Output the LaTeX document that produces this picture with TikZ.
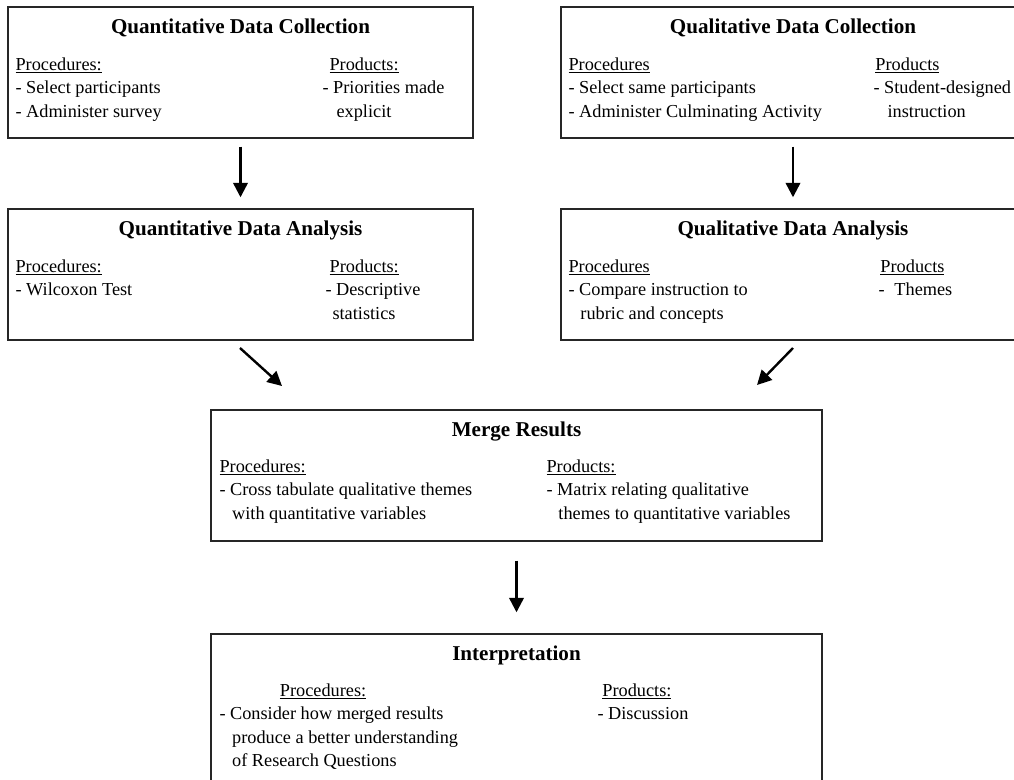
\documentclass[tikz,border=0pt]{standalone}
\usepackage{fontspec}
\setmainfont{Liberation Serif}
\usetikzlibrary{calc,arrows.meta}

\tikzset{
  box/.style={draw=black!85, line width=1pt, minimum height=3.275cm, inner sep=0},
  ttl/.style={anchor=base, inner sep=0, font=\fontsize{15}{18}\selectfont\bfseries},
  txt/.style={anchor=base west, inner sep=0, font=\fontsize{13}{16.7}\selectfont},
  arr/.style={line width=1.7pt, -{Triangle[width=0.36cm, length=0.36cm]}}
}
\newcommand{\colbox}[1]{\begin{tabular}[t]{@{}l@{}}#1\end{tabular}}

\begin{document}
\begin{tikzpicture}[x=0.025cm, y=-0.025cm]
  \useasboundingbox (0,0) rectangle (1014,779);
  \clip (0,0) rectangle (1014,779);

  \node[box, minimum width=11.625cm] (qnc) at (240.5,72.5) {};
  \node[box, minimum width=11.6cm] (qlc) at (793,72.5) {};
  \node[box, minimum width=11.625cm] (qna) at (240.5,274.5) {};
  \node[box, minimum width=11.6cm] (qla) at (793,274.5) {};
  \node[box, minimum width=15.275cm] (mrg) at (516.5,475.5) {};
  \node[box, minimum width=15.275cm, minimum height=4.15cm] (itp) at (516.5,717) {};

  \node[ttl] (qnc-t) at ($(qnc.north)+(0,27)$) {Quantitative Data Collection};
  \node[txt] (qnc-l) at ($(qnc.north west)+(8,64)$) {\colbox{\underline{Procedures:}\\- Select participants\\- Administer survey}};
  \node[txt] (qnc-r) at ($(qnc.north west)+(315,64)$) {\colbox{\hspace{5pt}\underline{Products:}\\- Priorities made\\\hspace{10pt}explicit}};

  \node[ttl] (qlc-t) at ($(qlc.north)+(0,27)$) {Qualitative Data Collection};
  \node[txt] (qlc-l) at ($(qlc.north west)+(8,64)$) {\colbox{\underline{Procedures}\\- Select same participants\\- Administer Culminating Activity}};
  \node[txt] (qlc-r) at ($(qlc.north west)+(313,64)$) {\colbox{\hspace{1.4pt}\underline{Products}\\- Student-designed\\\hspace{10pt}instruction}};

  \node[ttl] (qna-t) at ($(qna.north)+(0,27)$) {Quantitative Data Analysis};
  \node[txt] (qna-l) at ($(qna.north west)+(8,64)$) {\colbox{\underline{Procedures:}\\- Wilcoxon Test}};
  \node[txt] (qna-r) at ($(qna.north west)+(318,64)$) {\colbox{\hspace{3pt}\underline{Products:}\\- Descriptive\\\hspace{5pt}statistics}};

  \node[ttl] (qla-t) at ($(qla.north)+(0,27)$) {Qualitative Data Analysis};
  \node[txt] (qla-l) at ($(qla.north west)+(8,64)$) {\colbox{\underline{Procedures}\\- Compare instruction to\\\hspace{8.5pt}rubric and concepts}};
  \node[txt] (qla-r) at ($(qla.north west)+(318,64)$) {\colbox{\hspace{1.4pt}\underline{Products}\\-\hspace{7pt}Themes}};

  \node[ttl] (mrg-t) at ($(mrg.north)+(0,27)$) {Merge Results};
  \node[txt] (mrg-l) at ($(mrg.north west)+(9,63)$) {\colbox{\underline{Procedures:}\\- Cross tabulate qualitative themes\\\hspace{9pt}with quantitative variables}};
  \node[txt] (mrg-r) at ($(mrg.north west)+(336,63)$) {\colbox{\underline{Products:}\\- Matrix relating qualitative\\\hspace{8.5pt}themes to quantitative variables}};

  \node[ttl] (itp-t) at ($(itp.north)+(0,27)$) {Interpretation};
  \node[txt] (itp-l) at ($(itp.north west)+(9,63)$) {\colbox{\hspace{43pt}\underline{Procedures:}\\- Consider how merged results\\\hspace{9pt}produce a better understanding\\\hspace{9pt}of Research Questions}};
  \node[txt] (itp-r) at ($(itp.north west)+(387,63)$) {\colbox{\hspace{3.5pt}\underline{Products:}\\- Discussion}};

  \draw[arr, shorten <=0.2cm, shorten >=0.275cm] (qnc) -- (qna);
  \draw[arr, shorten <=0.2cm, shorten >=0.275cm] (qlc) -- (qla);
  \coordinate (qna-out) at (240,348);
  \coordinate (mrg-in1) at (282,386);
  \draw[arr] (qna-out) -- (mrg-in1);
  \coordinate (qla-out) at (793,348);
  \coordinate (mrg-in2) at (757,385);
  \draw[arr] (qla-out) -- (mrg-in2);
  \draw[arr, shorten <=0.475cm, shorten >=0.525cm] (mrg) -- (itp);
\end{tikzpicture}
\end{document}
